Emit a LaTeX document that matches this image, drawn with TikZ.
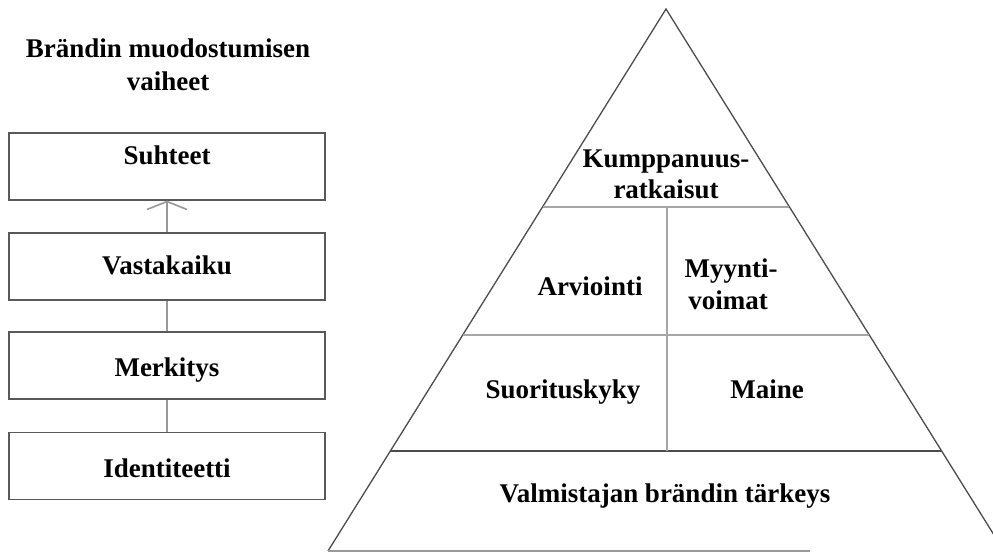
\documentclass[tikz,border=0pt]{standalone}
\usepackage{fontspec}
\setmainfont{Liberation Serif}
\usetikzlibrary{arrows.meta,calc}
\begin{document}
\begin{tikzpicture}[x=1pt,y=-1pt,
  txt/.style={font=\fontsize{27}{31}\selectfont\bfseries, inner sep=0pt, anchor=base, text=black},
  stagebox/.style={draw=black!65, line width=1.3pt, minimum width=316pt, minimum height=67pt, inner sep=0pt},
  conn/.style={draw=black!40, line width=1.6pt},
  edge/.style={draw=black!70, line width=1.3pt},
  sep/.style={draw=black!35, line width=2pt}]
\useasboundingbox (0,0) rectangle (993,553);
% title
\node[txt] (title1) at (168,58) {Brändin muodostumisen};
\node[txt] (title2) at (168,90.5) {vaiheet};
% left stages
\node[stagebox] (s) at (167,166.5) {};
\node[stagebox] (v) at (167,266.5) {};
\node[stagebox] (m) at (167,365.5) {};
\node[stagebox] (i) at (167,466) {};
\node[txt] (st) at (167,165) {Suhteet};
\node[txt] (vt) at (167,275) {Vastakaiku};
\node[txt] (mt) at (167,376.5) {Merkitys};
\node[txt] (it) at (167,477.5) {Identiteetti};
\draw[conn, -{Straight Barb[length=8pt,width=40pt,line width=1.6pt]}] (v.north) -- (s.south);
\draw[conn] (m.north) -- (v.south);
\draw[conn] (i.north) -- (m.south);
% pyramid
\coordinate (apex) at (666,9);
\coordinate (bl) at (328,551);
\coordinate (br) at (1004,551);
\coordinate (bm) at (810,551);
\coordinate (l1) at ($(apex)!0.3653!(bl)$);
\coordinate (r1) at ($(apex)!0.3653!(br)$);
\coordinate (l2) at ($(apex)!0.6015!(bl)$);
\coordinate (r2) at ($(apex)!0.6015!(br)$);
\coordinate (l3) at ($(apex)!0.8155!(bl)$);
\coordinate (r3) at ($(apex)!0.8155!(br)$);
\coordinate (d1) at (667,207);
\coordinate (d2) at (667,451);
\begin{scope}
\clip (0,0) rectangle (993,553);
\draw[edge] (bl) -- (apex) -- (br);
\draw[draw=black!40, line width=1.6pt] (bl) -- (bm);
\end{scope}
\draw[sep] (l1) -- (r1);
\draw[sep] (l2) -- (r2);
\draw[edge] (l3) -- (r3);
\draw[sep] (d1) -- (d2);
% pyramid texts
\node[txt] (kump1) at (666,168) {Kumppanuus-};
\node[txt] (kump2) at (666,199) {ratkaisut};
\node[txt] (arv) at (590,295) {Arviointi};
\node[txt] (myy1) at (731,278) {Myynti-};
\node[txt] (myy2) at (728,309) {voimat};
\node[txt] (suo) at (563,398) {Suorituskyky};
\node[txt] (mai) at (767,398) {Maine};
\node[txt] (val) at (665,502) {Valmistajan brändin tärkeys};
\end{tikzpicture}
\end{document}
